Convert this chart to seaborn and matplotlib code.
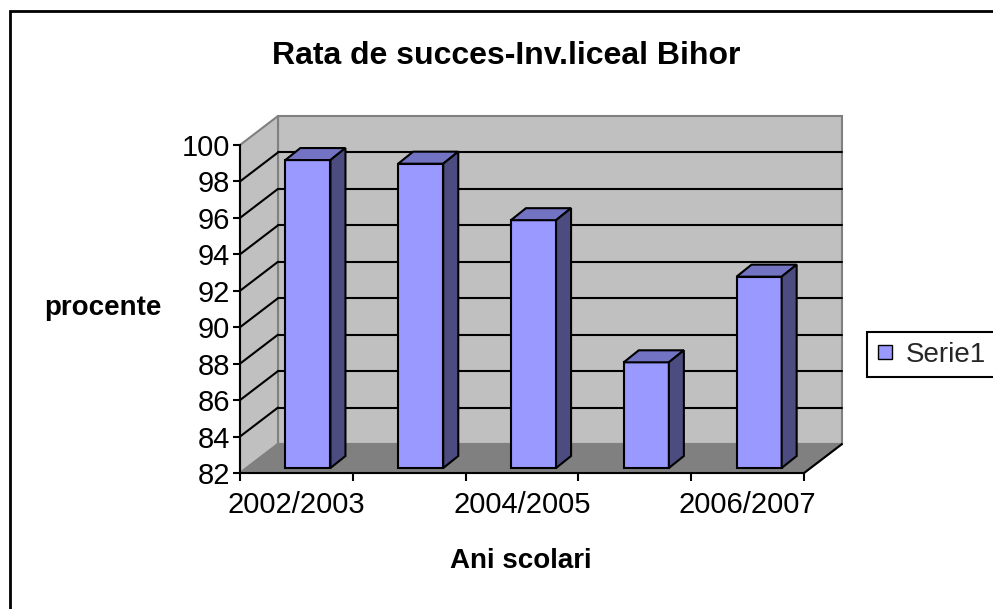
import numpy as np
import pandas as pd
import seaborn as sns
import matplotlib.pyplot as plt
from matplotlib.patches import Polygon, Rectangle
from matplotlib.lines import Line2D

# Success rate per school year
years = ["2002/2003", "2003/2004", "2004/2005", "2005/2006", "2006/2007"]
rates = [98.9, 98.7, 95.6, 87.8, 92.5]
shown_labels = ["2002/2003", "", "2004/2005", "", "2006/2007"]
y_ticks = list(range(82, 101, 2))
series_name = "Serie1"
title = "Rata de succes-Inv.liceal Bihor"
x_title = "Ani scolari"
y_title = "procente"

W, H, DPI = 993, 609, 100
sns.set_theme(style="ticks")
plt.rcParams["font.family"] = ["Liberation Sans", "DejaVu Sans"]

fig = plt.figure(figsize=(W / DPI, H / DPI), dpi=DPI)
fig.patch.set_facecolor("white")

# front plane of the plot box, pixels from the top-left corner
left_px, right_px, top_px, bottom_px = 240, 804, 145, 473
ax = fig.add_axes([left_px / W, 1 - bottom_px / H,
                   (right_px - left_px) / W, (bottom_px - top_px) / H])
ax.set_facecolor("none")

bar_face = "#9999ff"
bar_top = "#7373c4"
bar_side = "#4c4c80"
wall_c = "#c0c0c0"
floor_c = "#808080"
edge_gray = "#808080"
lw = 1.5

df = pd.DataFrame({"An": years, "Rata": rates})
sns.barplot(data=df, x="An", y="Rata", ax=ax, color=bar_face, saturation=1,
            width=0.40, edgecolor="black", linewidth=lw, zorder=5)
bars = list(ax.containers[0])

x_lo, x_hi = -0.5, len(years) - 0.5
y_lo, y_hi = y_ticks[0], y_ticks[-1]
ax.set_xlim(x_lo, x_hi)
ax.set_ylim(y_lo, y_hi)

ux = (right_px - left_px) / (x_hi - x_lo)
uy = (bottom_px - top_px) / (y_hi - y_lo)


def depth(dx_px, dy_px):
    """Screen offset in pixels (right, up) expressed in data units."""
    return dx_px / ux, dy_px / uy


wall_dx, wall_dy = depth(38, 29)
face_dx, face_dy = depth(11.5, 5)
bar_dx, bar_dy = depth(15, 12)

# walls and floor
ax.add_patch(Rectangle((x_lo + wall_dx, y_lo + wall_dy), x_hi - x_lo, y_hi - y_lo,
                       fc=wall_c, ec=edge_gray, lw=lw, zorder=0, clip_on=False))
ax.add_patch(Polygon([(x_lo, y_lo), (x_lo, y_hi), (x_lo + wall_dx, y_hi + wall_dy),
                      (x_lo + wall_dx, y_lo + wall_dy)],
                     fc=wall_c, ec=edge_gray, lw=lw, zorder=0, clip_on=False))
ax.add_patch(Polygon([(x_lo, y_lo), (x_hi, y_lo), (x_hi + wall_dx, y_lo + wall_dy),
                      (x_lo + wall_dx, y_lo + wall_dy)],
                     fc=floor_c, ec=edge_gray, lw=lw, zorder=1, clip_on=False))
ax.add_line(Line2D([x_hi, x_hi + wall_dx], [y_lo, y_lo + wall_dy],
                   color="black", lw=lw, zorder=2, clip_on=False))

# gridlines on the back wall and the side wall
for v in y_ticks[1:-1]:
    ax.add_line(Line2D([x_lo + wall_dx, x_hi + wall_dx], [v + wall_dy, v + wall_dy],
                       color="black", lw=lw, zorder=1, clip_on=False))
    ax.add_line(Line2D([x_lo, x_lo + wall_dx], [v, v + wall_dy],
                       color="black", lw=lw, zorder=1, clip_on=False))

# turn the flat bars into prisms standing on the floor
for patch in bars:
    x0 = patch.get_x() + face_dx
    w = patch.get_width()
    top = patch.get_y() + patch.get_height() + face_dy
    bottom = y_lo + face_dy
    patch.set_x(x0)
    patch.set_y(bottom)
    patch.set_height(top - bottom)
    patch.set_clip_on(False)
    patch.set_joinstyle("miter")
    ax.add_patch(Polygon([(x0, top), (x0 + w, top), (x0 + w + bar_dx, top + bar_dy),
                          (x0 + bar_dx, top + bar_dy)],
                         fc=bar_top, ec="black", lw=lw, zorder=5, clip_on=False,
                         joinstyle="miter"))
    ax.add_patch(Polygon([(x0 + w, bottom), (x0 + w + bar_dx, bottom + bar_dy),
                          (x0 + w + bar_dx, top + bar_dy), (x0 + w, top)],
                         fc=bar_side, ec="black", lw=lw, zorder=5, clip_on=False,
                         joinstyle="miter"))

# axes: front spines, ticks and labels
for name in ("top", "right"):
    ax.spines[name].set_visible(False)
for name in ("left", "bottom"):
    ax.spines[name].set_color("black")
    ax.spines[name].set_linewidth(lw)
    ax.spines[name].set_zorder(6)

tick_size = 21
ax.set_yticks(y_ticks)
ax.set_yticklabels([str(t) for t in y_ticks])
ax.tick_params(axis="y", which="major", left=True, direction="out", length=5,
               width=lw, color="black", labelsize=tick_size, pad=2,
               labelcolor="black")
ax.set_xticks(range(len(years)))
ax.set_xticklabels(shown_labels)
ax.tick_params(axis="x", which="major", bottom=True, length=0, pad=13,
               labelsize=tick_size, labelcolor="black")
ax.set_xticks(np.arange(x_lo, x_hi + 0.01, 1), minor=True)
ax.tick_params(axis="x", which="minor", bottom=True, direction="out", length=6,
               width=lw, color="black")

ax.set_xlabel(x_title, fontsize=20, fontweight="bold", color="black")
ax.set_ylabel(y_title, fontsize=20, fontweight="bold", color="black",
              rotation=0, ha="center", va="baseline")
ax.xaxis.set_label_coords((521 - left_px) / (right_px - left_px),
                          (bottom_px - 568) / (bottom_px - top_px))
ax.yaxis.set_label_coords((103 - left_px) / (right_px - left_px),
                          (bottom_px - 315) / (bottom_px - top_px))
ax.xaxis.label.set_va("baseline")

fig.text(506 / W, 1 - 64 / H, title, ha="center", va="baseline",
         fontsize=23, fontweight="bold", color="black")

# legend
handle = Line2D([], [], marker="s", linestyle="none", markersize=9.5,
                markerfacecolor=bar_face, markeredgecolor="black",
                markeredgewidth=1)
leg = ax.legend([handle], [series_name], loc="upper left",
                bbox_to_anchor=(867 / W, 1 - 332 / H), bbox_transform=fig.transFigure,
                frameon=True, fancybox=False, framealpha=1, edgecolor="black",
                fontsize=20, handlelength=0.6, numpoints=1,
                handletextpad=0.45, borderpad=0.35, borderaxespad=0)
leg.get_frame().set_linewidth(lw)

# chart area border
fig.patches.append(Rectangle((10 / W, -0.2), 1.5, 1.2 - 11 / H,
                             transform=fig.transFigure, fill=False,
                             ec="black", lw=2, figure=fig))

fig.savefig("out.png", dpi=DPI, facecolor="white")
